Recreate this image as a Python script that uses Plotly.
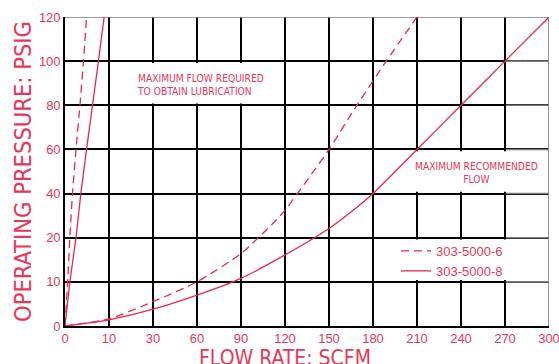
import numpy as np
import plotly.graph_objects as go

# ---- tick labels (axes are drawn with equally spaced, non-linear ticks) ----
x_ticks = [0, 10, 30, 60, 90, 120, 150, 180, 210, 240, 270, 300]
y_ticks = [0, 10, 20, 40, 60, 80, 100, 120]

# ---- series (flow SCFM, pressure PSIG) ----
lub6_flow = [0, 0.6, 1.1, 1.7, 2.5, 3.4, 4.2, 4.9]
lub6_psi = [0, 10, 20, 40, 60, 80, 100, 120]
lub8_flow = [0, 1.1, 2.5, 3.6, 4.9, 6.3, 7.6, 8.9]
lub8_psi = [0, 10, 20, 40, 60, 80, 100, 120]

max6_flow = [0, 10, 30, 60, 90, 114, 120, 135, 150, 169, 189, 210]
max6_psi = [0, 1.6, 5.5, 10, 16.4, 28, 32.4, 46, 60, 80, 100, 120]
max8_flow = [0, 10, 30, 60, 90, 120, 150, 165, 180, 210, 240, 270, 300]
max8_psi = [0, 1.4, 3.8, 7.0, 10.8, 16.1, 24.2, 31.6, 40, 60, 80, 100, 120]

RED = "#e8294c"
TXT = "#e6385a"
NARROW = "Liberation Sans Narrow, DejaVu Sans Condensed, Arial Narrow, sans-serif"
REG = "Liberation Sans, Arial, sans-serif"


def xi(v):
    return np.interp(v, x_ticks, np.arange(len(x_ticks)))


def yi(v):
    return np.interp(v, y_ticks, np.arange(len(y_ticks)))


fig = go.Figure()

dash = "8px,5px"
fig.add_trace(go.Scatter(x=xi(max6_flow), y=yi(max6_psi), mode="lines",
                         line=dict(color=RED, width=1.3, dash=dash, shape="spline", smoothing=0.6),
                         name="303-5000-6", showlegend=True, legendrank=1))
fig.add_trace(go.Scatter(x=xi(lub6_flow), y=yi(lub6_psi), mode="lines",
                         line=dict(color=RED, width=1.3, dash=dash, shape="spline", smoothing=0.6),
                         name="303-5000-6", showlegend=False))
fig.add_trace(go.Scatter(x=xi(max8_flow), y=yi(max8_psi), mode="lines",
                         line=dict(color=RED, width=1.3, shape="spline", smoothing=0.6),
                         name="303-5000-8", showlegend=True, legendrank=2))
fig.add_trace(go.Scatter(x=xi(lub8_flow), y=yi(lub8_psi), mode="lines",
                         line=dict(color=RED, width=1.3),
                         name="303-5000-8", showlegend=False))

nx = len(x_ticks) - 1
ny = len(y_ticks) - 1
d = 0.035
shapes = []
# white label boxes (cover grid, under curves)
for (x0, x1, y0, y1) in [(1, 5, 5, 6), (7, nx, 3, 4), (7, nx, 1, 2)]:
    shapes.append(dict(type="rect", xref="x", yref="y", x0=x0 + d, x1=x1 - d, y0=y0 + d * 1.2,
                       y1=y1 - d * 1.2, fillcolor="white", line=dict(width=0), layer="between"))
GRAY = "#7a7a7a"
# gray border segments
shapes.append(dict(type="line", xref="x", yref="y", x0=0, x1=nx, y0=ny, y1=ny,
                   line=dict(color=GRAY, width=1.6), layer="between"))
shapes.append(dict(type="line", xref="x", yref="y", x0=nx, x1=nx, y0=0, y1=ny,
                   line=dict(color=GRAY, width=1.6), layer="between"))
for yy in range(1, ny):
    shapes.append(dict(type="line", xref="x", yref="y", x0=nx - 1 + 0.02, x1=nx, y0=yy, y1=yy,
                       line=dict(color=GRAY, width=1.6), layer="between"))

annotations = [
    dict(text="MAXIMUM FLOW REQUIRED<br>TO OBTAIN LUBRICATION", xref="x", yref="y",
         x=1.6, y=5.47, xanchor="left", yanchor="middle", align="left", showarrow=False,
         font=dict(family=NARROW, size=10.2, color=TXT)),
    dict(text="MAXIMUM RECOMMENDED<br>FLOW", xref="x", yref="y",
         x=9.36, y=3.47, xanchor="center", yanchor="middle", align="center", showarrow=False,
         font=dict(family=NARROW, size=10.2, color=TXT)),
    dict(text="FLOW RATE: SCFM", xref="paper", yref="paper",
         x=(285 - 65) / 484, y=(326 - 358) / 309, xanchor="center", yanchor="middle",
         showarrow=False, font=dict(family=NARROW, size=21, color=TXT)),
    dict(text="OPERATING PRESSURE: PSIG", xref="paper", yref="paper",
         x=(23 - 65) / 484, y=(326 - 172) / 309, xanchor="center", yanchor="middle",
         textangle=-90, showarrow=False, font=dict(family=NARROW, size=23.5, color=TXT)),
]

fig.update_layout(
    width=559, height=364,
    margin=dict(l=65, r=10, t=17, b=38, autoexpand=False),
    paper_bgcolor="white", plot_bgcolor="white",
    shapes=shapes, annotations=annotations,
    legend=dict(x=(396 - 65) / 484, y=(326 - 236) / 309, xanchor="left", yanchor="top",
                bgcolor="rgba(0,0,0,0)", borderwidth=0,
                font=dict(family=REG, size=13, color=TXT), itemwidth=30),
    xaxis=dict(range=[0, nx], tickmode="array", tickvals=list(range(len(x_ticks))),
               ticktext=[str(t) for t in x_ticks], showgrid=True, gridcolor="black",
               gridwidth=1.6, zeroline=False, showline=True, linecolor="black", linewidth=1.6,
               ticks="", tickfont=dict(family=REG, size=13, color=TXT), fixedrange=True,
               ticklabeloverflow="allow"),
    yaxis=dict(range=[0, ny], tickmode="array", tickvals=list(range(len(y_ticks))),
               ticktext=[str(t) for t in y_ticks], showgrid=True, gridcolor="black",
               gridwidth=1.6, zeroline=False, showline=True, linecolor="black", linewidth=1.6,
               ticks="", tickfont=dict(family=REG, size=13, color=TXT), fixedrange=True,
               ticklabeloverflow="allow"),
)

fig.write_html("out.html", config={"displayModeBar": False},
               post_script="document.body.style.margin='0';")
